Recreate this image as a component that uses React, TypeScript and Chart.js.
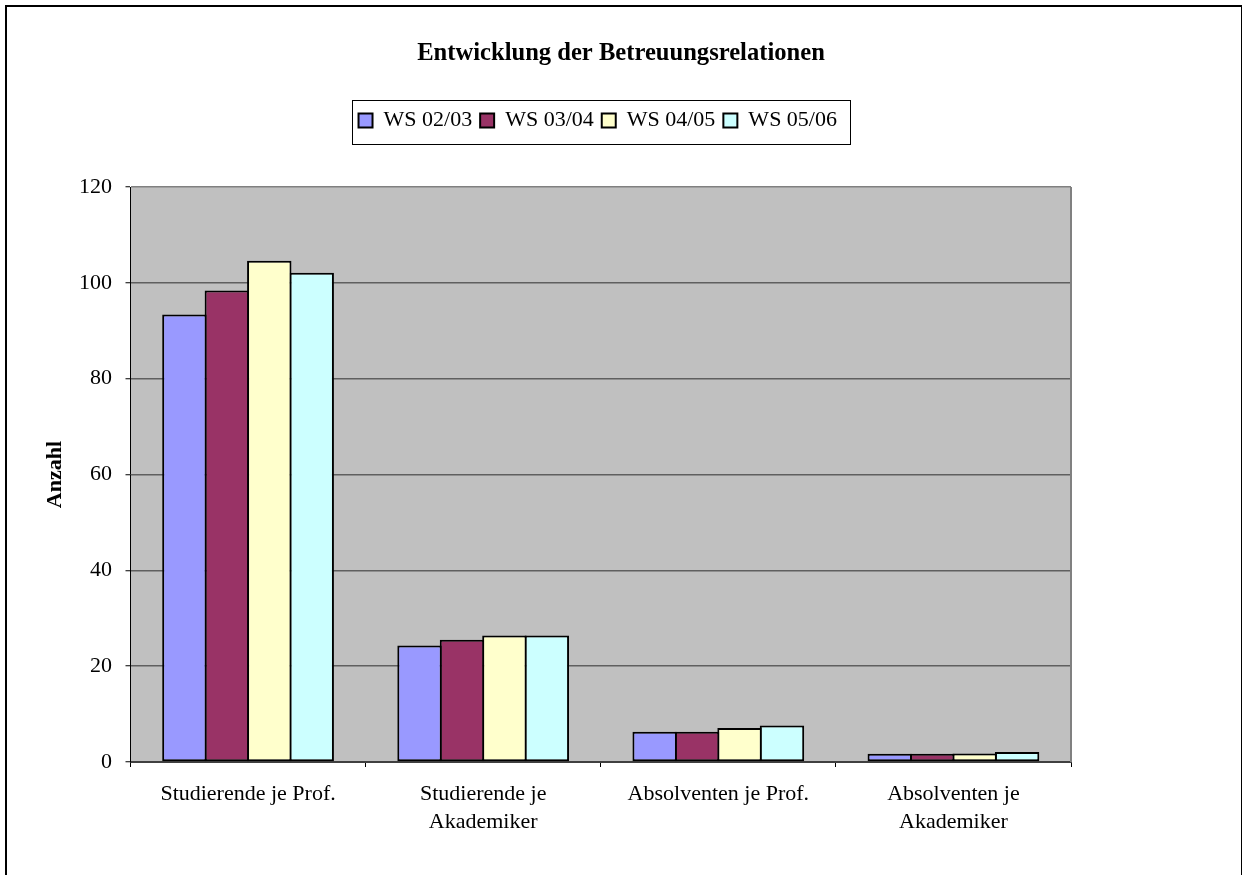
import React, { useEffect, useRef } from 'react';
import { Chart, registerables } from 'chart.js';

Chart.register(...registerables);

const chartTitle = 'Entwicklung der Betreuungsrelationen';
const yAxisTitle = 'Anzahl';
const categories: string[][] = [
  ['Studierende je Prof.'],
  ['Studierende je', 'Akademiker'],
  ['Absolventen je Prof.'],
  ['Absolventen je', 'Akademiker'],
];
const seriesNames = ['WS 02/03', 'WS 03/04', 'WS 04/05', 'WS 05/06'];
const ws0203 = [93.4, 24.3, 6.3, 1.7];
const ws0304 = [98.4, 25.5, 6.3, 1.7];
const ws0405 = [104.6, 26.4, 7.1, 1.8];
const ws0506 = [102.1, 26.4, 7.6, 2.1];
const seriesValues = [ws0203, ws0304, ws0405, ws0506];
const seriesColors = ['#9999FF', '#993366', '#FFFFCC', '#CCFFFF'];
const yMin = 0;
const yMax = 120;
const yStep = 20;

const FONT = "'Liberation Serif', 'Times New Roman', serif";

const decorPlugin = {
  id: 'decor',
  afterLayout(chart: any) {
    const lg = chart.legend;
    const a = chart.chartArea;
    if (!lg || !a) return;
    const target = (a.left + a.right) / 2 - 3;
    const shift = target - (lg.left + lg.right) / 2;
    lg.left += shift;
    lg.right += shift;
  },
  beforeDraw(chart: any) {
    const { ctx, chartArea: a } = chart;
    ctx.save();
    ctx.fillStyle = '#C0C0C0';
    ctx.fillRect(a.left, a.top, a.right - a.left, a.bottom - a.top);
    ctx.strokeStyle = '#000000';
    ctx.lineWidth = 2;
    ctx.strokeRect(6, 6, 1236, 1000);
    ctx.restore();
  },
  afterDatasetsDraw(chart: any) {
    const { ctx, chartArea: a } = chart;
    ctx.save();
    ctx.strokeStyle = '#808080';
    ctx.lineWidth = 2;
    ctx.beginPath();
    ctx.moveTo(a.right, a.top);
    ctx.lineTo(a.right, a.bottom);
    ctx.stroke();
    ctx.restore();
  },
  afterDraw(chart: any) {
    const lg = chart.legend;
    const hb = lg && lg.legendHitBoxes;
    if (!hb || !hb.length) return;
    const { ctx } = chart;
    const first = hb[0];
    const last = hb[hb.length - 1];
    const cy = first.top + first.height / 2;
    const left = Math.round(first.left - 7);
    const right = Math.round(last.left + last.width + 13);
    const top = Math.round(cy - 20.5);
    ctx.save();
    ctx.strokeStyle = '#000000';
    ctx.lineWidth = 1;
    ctx.strokeRect(left + 0.5, top + 0.5, right - left, 44);
    ctx.restore();
  },
};

export default function App() {
  const canvasRef = useRef<HTMLCanvasElement | null>(null);

  useEffect(() => {
    const canvas = canvasRef.current;
    if (!canvas) return;
    const chart = new Chart(canvas, {
      type: 'bar',
      data: {
        labels: categories,
        datasets: seriesNames.map((name, i) => ({
          label: name,
          data: seriesValues[i],
          backgroundColor: seriesColors[i],
          borderColor: '#000000',
          borderWidth: 2,
          borderSkipped: false,
          categoryPercentage: 0.722,
          barPercentage: 1.047,
        })),
      },
      options: {
        animation: false,
        responsive: false,
        events: [],
        layout: { padding: { top: 10, left: 10, right: 10, bottom: 10 } },
        plugins: {
          title: {
            display: true,
            text: chartTitle,
            color: '#000000',
            font: { family: FONT, size: 24.6, weight: 'bold', lineHeight: 1.2 },
            padding: { top: 28.6, bottom: 33.4 },
          },
          subtitle: {
            display: true,
            text: '',
            weight: 500,
            font: { family: FONT, size: 10, lineHeight: 1 },
            padding: { top: 35.5, bottom: 0 },
          },
          legend: {
            display: true,
            position: 'top',
            labels: {
              boxWidth: 14,
              boxHeight: 14,
              padding: 8,
              color: '#000000',
              font: { family: FONT, size: 22 },
            },
          },
          tooltip: { enabled: false },
        },
        scales: {
          x: {
            offset: true,
            grid: {
              display: true,
              offset: true,
              drawOnChartArea: false,
              drawTicks: true,
              tickLength: 5,
              tickColor: '#000000',
              tickWidth: 1,
            },
            border: { display: true, color: '#404040', width: 2 },
            ticks: {
              color: '#000000',
              padding: 13,
              maxRotation: 0,
              autoSkip: false,
              font: { family: FONT, size: 22, lineHeight: 1.27 },
            },
            afterFit: (scale: any) => {
              scale.height = 103;
            },
          },
          y: {
            min: yMin,
            max: yMax,
            ticks: {
              stepSize: yStep,
              color: '#000000',
              padding: 13.5,
              font: { family: FONT, size: 22 },
            },
            grid: {
              color: (c: any) => (c.tick && c.tick.value === yMax ? '#808080' : '#5f5f5f'),
              lineWidth: 1.5,
              tickLength: 5,
              tickColor: '#000000',
              tickWidth: 1,
            },
            border: { display: true, color: '#000000', width: 1 },
            title: {
              display: true,
              text: yAxisTitle,
              color: '#000000',
              font: { family: FONT, size: 22, weight: 'bold', lineHeight: 1.2 },
              padding: { top: 32.3, bottom: 0 },
            },
            afterFit: (scale: any) => {
              scale.width = 120.5;
            },
          },
          yr: {
            type: 'linear',
            position: 'right',
            display: true,
            grid: { display: false, drawTicks: false },
            border: { display: false },
            ticks: { display: false },
            afterFit: (scale: any) => {
              scale.width = 161;
            },
          },
        },
      } as any,
      plugins: [decorPlugin],
    });
    return () => chart.destroy();
  }, []);

  return (
    <div style={{ position: 'absolute', left: 0, top: 0, width: 1242, height: 875, background: '#ffffff' }}>
      <canvas ref={canvasRef} width={1242} height={875} style={{ display: 'block' }} />
    </div>
  );
}
